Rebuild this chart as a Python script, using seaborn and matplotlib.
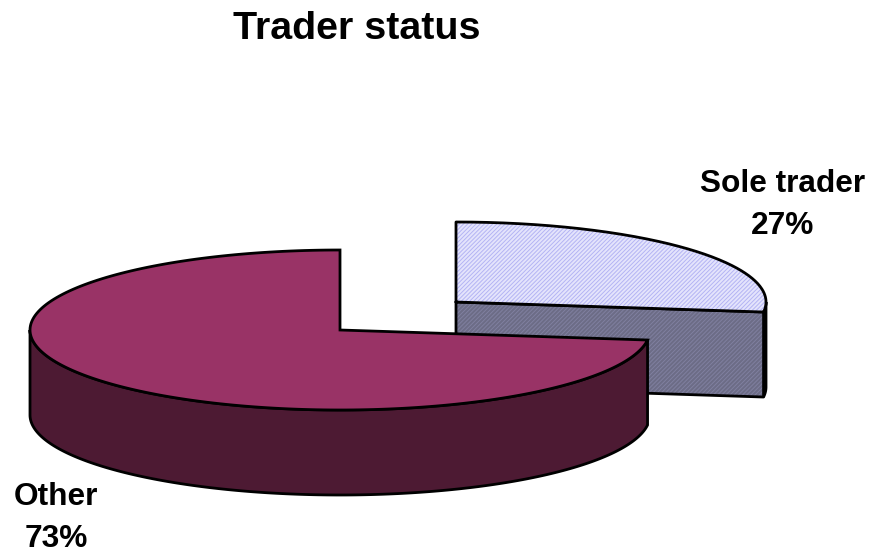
import numpy as np
import matplotlib
matplotlib.use('Agg')
import matplotlib.pyplot as plt
import seaborn as sns

# Data
categories = ['Sole trader', 'Other']
shares = [27, 73]

top_colors = ['#e4e4fc', '#993366']
wall_colors = ['#6c6c86', '#4d1a33']

sns.set_theme(style='white')
plt.rcParams['font.family'] = ['Liberation Sans', 'DejaVu Sans']
plt.rcParams['hatch.linewidth'] = 0.7

# Pie geometry in picture pixels
rx, ry, depth = 310, 80, 85
centers = [(456, 302), (340, 330)]


def rim(cx, cy, a0, a1, n=200):
    # a = clockwise degrees from 12 o'clock
    a = np.radians(np.linspace(a0, a1, n))
    return cx + rx * np.sin(a), cy - ry * np.cos(a)


fig, ax = plt.subplots(figsize=(8.84, 5.54), dpi=100)
fig.subplots_adjust(0, 0, 1, 1)
ax.set_xlim(0, 884)
ax.set_ylim(554, 0)
ax.axis('off')

split = 360 * shares[0] / sum(shares)

# Sole trader slice, pulled out
cx, cy = centers[0]
x, y = rim(cx, cy, 90, split, 20)
ax.fill(np.r_[x, x[::-1]], np.r_[y, y[::-1] + depth], fc='#111111', ec='black', lw=2, zorder=1)
ex, ey = rim(cx, cy, split, split, 1)
ax.fill([cx, ex[0], ex[0], cx], [cy, ey[0], ey[0] + depth, cy + depth],
        fc=wall_colors[0], ec='#8080a0', lw=0, hatch='////////', zorder=2)
ax.plot([cx, ex[0], ex[0], cx, cx], [cy, ey[0], ey[0] + depth, cy + depth, cy], color='black', lw=2, zorder=2)
x, y = rim(cx, cy, 0, split)
ax.fill(np.r_[cx, x], np.r_[cy, y], fc=top_colors[0], ec='#b4b4f4', lw=0, hatch='////////', zorder=3)
ax.plot(np.r_[cx, x, cx], np.r_[cy, y, cy], color='black', lw=2, zorder=4)

# Other slice
cx, cy = centers[1]
x, y = rim(cx, cy, split, 270)
ax.fill(np.r_[x, x[::-1]], np.r_[y, y[::-1] + depth], fc=wall_colors[1], ec='black', lw=2, zorder=5)
x, y = rim(cx, cy, split, 360)
ax.fill(np.r_[cx, x], np.r_[cy, y], fc=top_colors[1], ec='black', lw=2, zorder=6)

# Labels
ax.text(357, 29, 'Trader status', ha='center', va='center', fontsize=28.4, fontweight='bold', color='black')
ax.text(783, 205, f'{categories[0]}\n{shares[0]}%', ha='center', va='center', fontsize=22.8,
        fontweight='bold', color='black', linespacing=1.5)
ax.text(56, 518, f'{categories[1]}\n{shares[1]}%', ha='center', va='center', fontsize=22.8,
        fontweight='bold', color='black', linespacing=1.5)

fig.savefig('out.png', dpi=100)
